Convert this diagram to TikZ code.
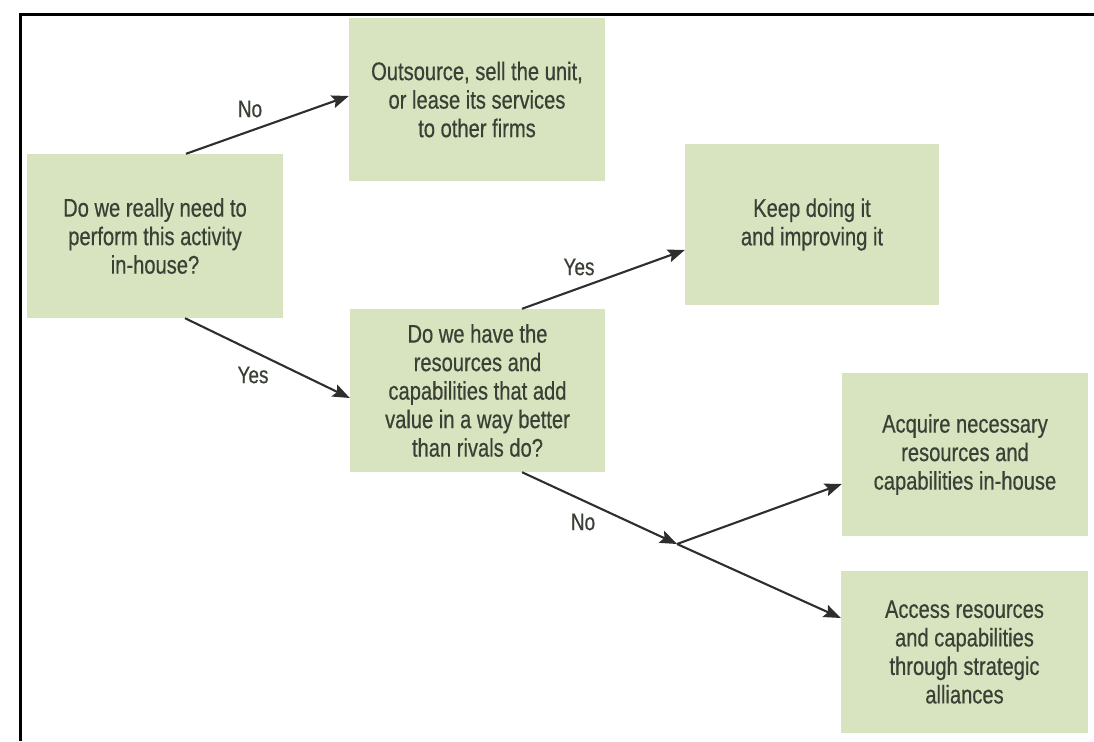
\documentclass[tikz,border=0pt]{standalone}
\usepackage{fontspec}
\usetikzlibrary{arrows.meta}
\newfontfamily\boxfont[FakeStretch=0.79,FakeBold=0.5]{Liberation Sans}
\definecolor{boxgreen}{HTML}{D8E4BF}
\definecolor{inkgray}{HTML}{3A4035}
\definecolor{wiregray}{HTML}{2E2E2E}
\begin{document}
\begin{tikzpicture}[x=1pt,y=-1pt,
  box/.style={rectangle, fill=boxgreen, draw=none, inner sep=0pt, align=center,
    text=inkgray, font=\boxfont\fontsize{25.5}{28.5}\selectfont},
  lbl/.style={text=inkgray, inner sep=0pt, font=\boxfont\fontsize{24}{26}\selectfont},
  flow/.style={wiregray, line width=2.1pt, -{Stealth[length=17pt,width=13pt,inset=3pt]}}]
  \useasboundingbox (0,0) rectangle (1094,741);
  % frame edges
  \draw[black, line width=3pt] (20,741) -- (20,15) -- (1094,15);

  % decision and outcome boxes
  \node[box, minimum width=256pt, minimum height=164pt] (q1) at (155,236)
    {Do we really need to\\perform this activity\\in-house?};
  \node[box, minimum width=256pt, minimum height=163pt] (out) at (477,99.5)
    {Outsource, sell the unit,\\or lease its services\\to other firms};
  \node[box, minimum width=254pt, minimum height=161pt] (keep) at (812,224.5)
    {Keep doing it\\and improving it};
  \node[box, minimum width=255pt, minimum height=163pt] (q2) at (477.5,390.5)
    {Do we have the\\resources and\\capabilities that add\\value in a way better\\than rivals do?};
  \node[box, minimum width=246pt, minimum height=163pt] (acq) at (965,454.5)
    {Acquire necessary\\resources and\\capabilities in-house};
  \node[box, minimum width=247pt, minimum height=162pt] (acc) at (964.5,652)
    {Access resources\\and capabilities\\through strategic\\alliances};

  \coordinate (split) at (677,544);

  % connectors
  \draw[flow] ([xshift=31pt]q1.north) -- ([yshift=3.5pt]out.west);
  \draw[flow] ([xshift=30pt]q1.south) -- ([yshift=-7.5pt]q2.west);
  \draw[flow] ([xshift=44.5pt]q2.north) -- ([yshift=-25.5pt]keep.west);
  \draw[flow] ([xshift=44.5pt]q2.south) -- (split);
  \draw[flow] (split) -- ([yshift=-29.5pt]acq.west);
  \draw[flow] (split) -- ([yshift=34pt]acc.west);

  % branch labels
  \node[lbl] (noA) at (250,109) {No};
  \node[lbl] (yesA) at (253,375) {Yes};
  \node[lbl] (yesB) at (579,267) {Yes};
  \node[lbl] (noB) at (583,522) {No};
\end{tikzpicture}
\end{document}
